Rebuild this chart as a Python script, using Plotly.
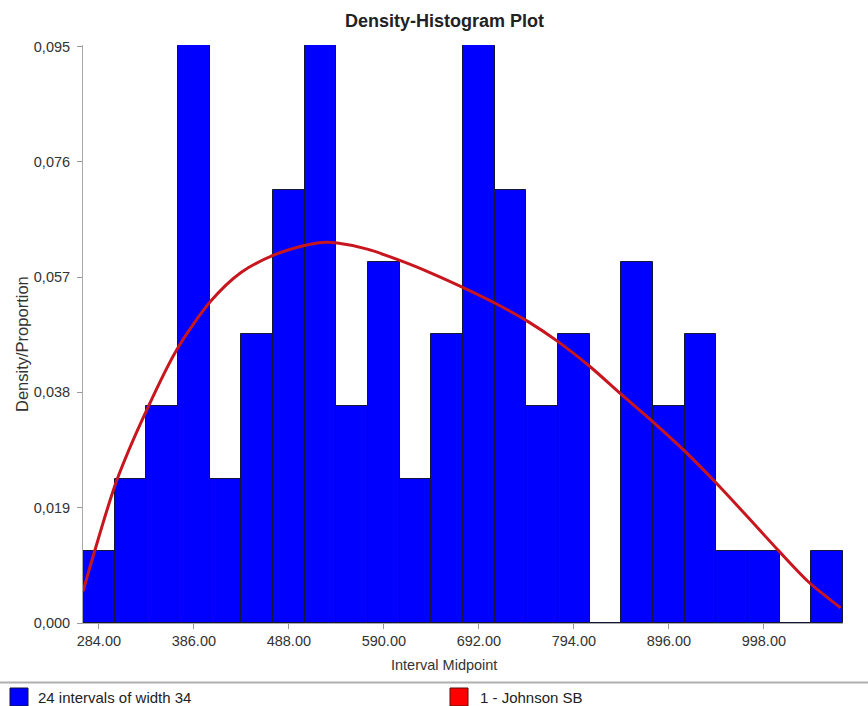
import plotly.graph_objects as go

# ---- data ----
midpoints = [284, 318, 352, 386, 420, 454, 488, 522, 556, 590, 624, 658,
             692, 726, 760, 794, 828, 862, 896, 930, 964, 998, 1032, 1066]
proportions = [0.0119, 0.0238, 0.0357, 0.0952, 0.0238, 0.0476, 0.0714, 0.0952,
               0.0357, 0.0595, 0.0238, 0.0476, 0.0952, 0.0714, 0.0357, 0.0476,
               0.0, 0.0595, 0.0357, 0.0476, 0.0119, 0.0119, 0.0, 0.0119]
interval_width = 34

curve_x = [267.0, 279.6, 303.0, 335.7, 368.3, 404.0, 437.0, 471.6, 504.9, 524.5,
           540.0, 572.2, 607.9, 640.1, 674.7, 710.6, 744.5, 776.7, 812.5, 844.7,
           878.6, 912.6, 946.6, 980.5, 1014.5, 1045.8, 1080.5]
curve_y = [0.0052, 0.0119, 0.0234, 0.0352, 0.0452, 0.0530, 0.0578, 0.0606, 0.0622,
           0.0627, 0.0626, 0.0616, 0.0597, 0.0577, 0.0553, 0.0526, 0.0497, 0.0464,
           0.0421, 0.0377, 0.0332, 0.0284, 0.0231, 0.0175, 0.0118, 0.0068, 0.0025]

x_tickvals = [284, 386, 488, 590, 692, 794, 896, 998]
x_ticktext = ["284.00", "386.00", "488.00", "590.00", "692.00", "794.00", "896.00", "998.00"]
y_tickvals = [0.0, 0.019, 0.038, 0.057, 0.076, 0.095]
y_ticktext = ["0,000", "0,019", "0,038", "0,057", "0,076", "0,095"]

title_text = "Density-Histogram Plot"
x_title = "Interval Midpoint"
y_title = "Density/Proportion"
legend_hist = "24 intervals of width 34"
legend_fit = "1 - Johnson SB"

# ---- geometry helpers (pixel -> paper) ----
W, H = 868, 706
ML, MR, MT, MB = 83, 25, 45, 83
PW, PH = W - ML - MR, H - MT - MB


def px(x):
    return (x - ML) / PW


def py(y):
    return (H - MB - y) / PH


FONT = "Liberation Sans, Arial, sans-serif"

fig = go.Figure()
fig.add_trace(go.Bar(
    x=midpoints, y=proportions, width=interval_width,
    marker=dict(color="#0000FF", line=dict(color="#151535", width=1)),
    showlegend=False, hoverinfo="x+y",
))
fig.add_trace(go.Scatter(
    x=curve_x, y=curve_y, mode="lines", line_shape="spline",
    line=dict(color="#C8161E", width=3, smoothing=0.8),
    showlegend=False,
))

tickfont = dict(family=FONT, size=14.5, color="#333333")
fig.update_layout(
    width=W, height=H,
    margin=dict(l=ML, r=MR, t=MT, b=MB, pad=0),
    paper_bgcolor="white", plot_bgcolor="white",
    bargap=0,
    font=dict(family=FONT, size=14.5, color="#333333"),
    xaxis=dict(range=[267, 1083], tickvals=x_tickvals, ticktext=x_ticktext,
               ticks="outside", ticklen=5, tickcolor="#999999",
               showline=True, linecolor="#aaaaaa", linewidth=1,
               showgrid=False, zeroline=False, tickfont=tickfont),
    yaxis=dict(range=[0, 0.09524], tickvals=y_tickvals, ticktext=y_ticktext,
               ticks="outside", ticklen=5, tickcolor="#999999",
               showline=True, linecolor="#aaaaaa", linewidth=1,
               showgrid=False, zeroline=False, tickfont=tickfont,
               ticklabelstandoff=4),
)

annotations = [
    dict(text="<b>" + title_text + "</b>", x=px(444), y=py(21), xref="paper", yref="paper",
         showarrow=False, xanchor="center", yanchor="middle",
         font=dict(family=FONT, size=18, color="#222222")),
    dict(text=x_title, x=px(444), y=py(665), xref="paper", yref="paper",
         showarrow=False, xanchor="center", yanchor="middle",
         font=dict(family=FONT, size=14.5, color="#333333")),
    dict(text=y_title, x=px(22), y=py(344), xref="paper", yref="paper",
         showarrow=False, xanchor="center", yanchor="middle", textangle=-90,
         font=dict(family=FONT, size=16.5, color="#333333")),
    dict(text=legend_hist, x=px(36), y=py(698), xref="paper", yref="paper",
         showarrow=False, xanchor="left", yanchor="middle",
         font=dict(family=FONT, size=15, color="#222222")),
    dict(text=legend_fit, x=px(478), y=py(698), xref="paper", yref="paper",
         showarrow=False, xanchor="left", yanchor="middle",
         font=dict(family=FONT, size=15, color="#222222")),
]
fig.update_layout(annotations=annotations)

shapes = [
    dict(type="line", xref="paper", yref="paper", x0=px(0), x1=px(W), y0=py(682.5), y1=py(682.5),
         line=dict(color="#b0b0b0", width=2)),
    dict(type="rect", xref="paper", yref="paper", x0=px(10), x1=px(28), y0=py(688), y1=py(706),
         fillcolor="#0000FF", line=dict(color="#151535", width=1)),
    dict(type="rect", xref="paper", yref="paper", x0=px(450), x1=px(468), y0=py(688), y1=py(706),
         fillcolor="#FF0000", line=dict(color="#551111", width=1)),
]
fig.update_layout(shapes=shapes)

fig.write_html("out.html",
               config={"displayModeBar": False},
               post_script="document.body.style.margin='0';document.body.style.overflow='hidden';")
